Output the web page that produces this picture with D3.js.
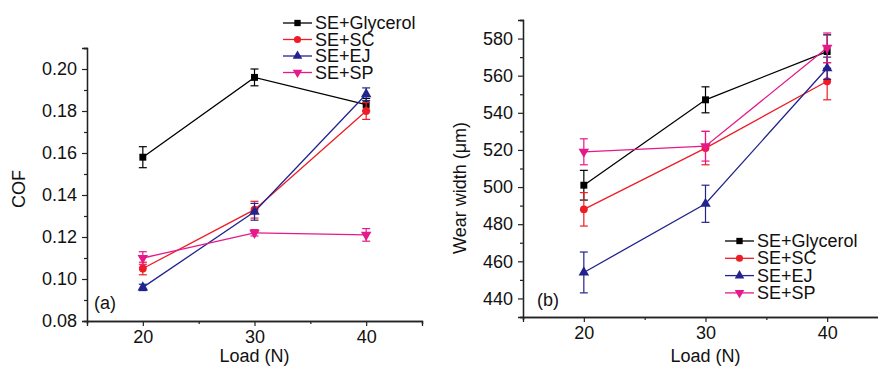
<!DOCTYPE html>
<html>
<head>
<meta charset="utf-8">
<script src="https://cdn.jsdelivr.net/npm/d3@7"></script>
<style>
  body { margin: 0; background: #fff; }
  text { font-family: "Liberation Sans", Arial, sans-serif; fill: #111; }
</style>
</head>
<body>
<svg id="chart" width="878" height="367"></svg>
<script>
// shared x values (load in N)
const loads = [20, 30, 40];
const seriesNames = ["SE+Glycerol", "SE+SC", "SE+EJ", "SE+SP"];
const colors = ["#000000", "#ee1c25", "#23238e", "#e5198b"];
const symbols = [d3.symbolSquare, d3.symbolCircle, d3.symbolTriangle, "down"];

// panel (a): COF
const cofGlycerol = [0.158, 0.196, 0.183];
const cofSC = [0.105, 0.133, 0.180];
const cofEJ = [0.096, 0.132, 0.188];
const cofSP = [0.110, 0.122, 0.121];
const cofErrGlycerol = [0.005, 0.004, 0.003];
const cofErrSC = [0.003, 0.004, 0.004];
const cofErrEJ = [0.0015, 0.004, 0.003];
const cofErrSP = [0.003, 0.0015, 0.003];
const cofTicks = [0.08, 0.10, 0.12, 0.14, 0.16, 0.18, 0.20];

// panel (b): wear width
const wearGlycerol = [501, 547, 573];
const wearSC = [488, 521, 557];
const wearEJ = [454, 491, 564];
const wearSP = [519, 522, 575];
const wearErrGlycerol = [8, 7, 9];
const wearErrSC = [9, 9, 10];
const wearErrEJ = [11, 10, 6];
const wearErrSP = [7, 8, 8];
const wearTicks = [440, 460, 480, 500, 520, 540, 560, 580];

const xTicks = [20, 30, 40];
const xMinor = [15, 25, 35, 45];

const svg = d3.select("#chart");

// marker helper, down triangle is a rotated triangle
const marker = (sel, sym, color, size) => {
  if (sym === "down") {
    sel.append("path")
      .attr("d", d3.symbol(d3.symbolTriangle, size)())
      .attr("transform", "rotate(180)")
      .attr("fill", color);
  } else {
    sel.append("path")
      .attr("d", d3.symbol(sym, size)())
      .attr("fill", color);
  }
};

const drawPanel = (opt) => {
  const x = d3.scaleLinear().domain([15, 45]).range([opt.left, opt.right]);
  const y = d3.scaleLinear().domain(opt.yDomain).range([opt.bottom, opt.top]);
  const g = svg.append("g");

  // axes
  const xAxis = d3.axisBottom(x).tickValues(xTicks).tickSize(5).tickPadding(4).tickFormat(d3.format("d"));
  const xAxisMinor = d3.axisBottom(x).tickValues(xMinor).tickSize(3).tickFormat("");
  const yAxis = d3.axisLeft(y).tickValues(opt.yTicks).tickSize(5).tickPadding(5).tickFormat(opt.fmt);
  const yAxisMinor = d3.axisLeft(y).tickValues(opt.yMinor).tickSize(3).tickFormat("");

  const styleAxis = a => {
    a.select(".domain").attr("stroke", "#222").attr("stroke-width", 1.3);
    a.selectAll(".tick line").attr("stroke", "#222").attr("stroke-width", 1.2);
    a.selectAll("text").attr("font-size", 18).attr("font-family", "Liberation Sans, Arial, sans-serif").attr("fill", "#111");
  };

  g.append("g").attr("transform", `translate(0,${opt.bottom})`).call(xAxisMinor).call(styleAxis);
  g.append("g").attr("transform", `translate(0,${opt.bottom})`).call(xAxis).call(styleAxis);
  g.append("g").attr("transform", `translate(${opt.left},0)`).call(yAxisMinor).call(styleAxis);
  g.append("g").attr("transform", `translate(${opt.left},0)`).call(yAxis).call(styleAxis);

  // axis titles
  g.append("text")
    .attr("x", (x(20) + x(40)) / 2)
    .attr("y", 362)
    .attr("text-anchor", "middle")
    .attr("font-size", 18)
    .text("Load (N)");
  g.append("text")
    .attr("transform", `translate(${opt.titleX},${opt.titleY}) rotate(-90)`)
    .attr("text-anchor", "middle")
    .attr("font-size", 18)
    .text(opt.yTitle);

  // panel label
  g.append("text")
    .attr("x", opt.labelX)
    .attr("y", opt.labelY)
    .attr("font-size", 18)
    .text(opt.label);

  // series
  opt.series.forEach((vals, si) => {
    const col = colors[si];
    const errs = opt.errors[si];
    const pts = loads.map((l, i) => ({ x: l, y: vals[i], e: errs[i] }));
    g.append("path")
      .datum(pts)
      .attr("fill", "none")
      .attr("stroke", col)
      .attr("stroke-width", 1.3)
      .attr("d", d3.line().x(d => x(d.x)).y(d => y(d.y)));

    const eb = g.append("g").selectAll("g").data(pts).enter().append("g");
    eb.append("line")
      .attr("x1", d => x(d.x)).attr("x2", d => x(d.x))
      .attr("y1", d => y(d.y - d.e)).attr("y2", d => y(d.y + d.e))
      .attr("stroke", col).attr("stroke-width", 1.2);
    [-1, 1].forEach(s => {
      eb.append("line")
        .attr("x1", d => x(d.x) - 4).attr("x2", d => x(d.x) + 4)
        .attr("y1", d => y(d.y + s * d.e)).attr("y2", d => y(d.y + s * d.e))
        .attr("stroke", col).attr("stroke-width", 1.2);
    });

    g.append("g").selectAll("g").data(pts).enter().append("g")
      .attr("transform", d => `translate(${x(d.x)},${y(d.y)})`)
      .each(function () { marker(d3.select(this), symbols[si], col, 48); });
  });

  // legend
  const lg = g.append("g");
  seriesNames.forEach((name, si) => {
    const ly = opt.legendY + si * opt.legendStep;
    lg.append("line")
      .attr("x1", opt.legendX).attr("x2", opt.legendX + 29)
      .attr("y1", ly).attr("y2", ly)
      .attr("stroke", colors[si]).attr("stroke-width", 1.3);
    const m = lg.append("g").attr("transform", `translate(${opt.legendX + 14.5},${ly})`);
    marker(m, symbols[si], colors[si], 40);
    lg.append("text")
      .attr("x", opt.legendX + 32)
      .attr("y", ly + 6)
      .attr("font-size", 18)
      .text(name);
  });
};

drawPanel({
  left: 87, right: 422, top: 48, bottom: 321,
  yDomain: [0.08, 0.21],
  yTicks: cofTicks,
  yMinor: [0.09, 0.11, 0.13, 0.15, 0.17, 0.19, 0.21],
  fmt: d3.format(".2f"),
  yTitle: "COF", titleX: 25, titleY: 189,
  label: "(a)", labelX: 94, labelY: 309,
  series: [cofGlycerol, cofSC, cofEJ, cofSP],
  errors: [cofErrGlycerol, cofErrSC, cofErrEJ, cofErrSP],
  legendX: 283, legendY: 23, legendStep: 16.5
});

drawPanel({
  left: 523, right: 888, top: 20, bottom: 317,
  yDomain: [430, 590],
  yTicks: wearTicks,
  yMinor: [430, 450, 470, 490, 510, 530, 550, 570, 590],
  fmt: d3.format("d"),
  yTitle: "Wear width (\u03bcm)", titleX: 466, titleY: 188,
  label: "(b)", labelX: 537, labelY: 306,
  series: [wearGlycerol, wearSC, wearEJ, wearSP],
  errors: [wearErrGlycerol, wearErrSC, wearErrEJ, wearErrSP],
  legendX: 725, legendY: 241, legendStep: 17.3
});
</script>
</body>
</html>
